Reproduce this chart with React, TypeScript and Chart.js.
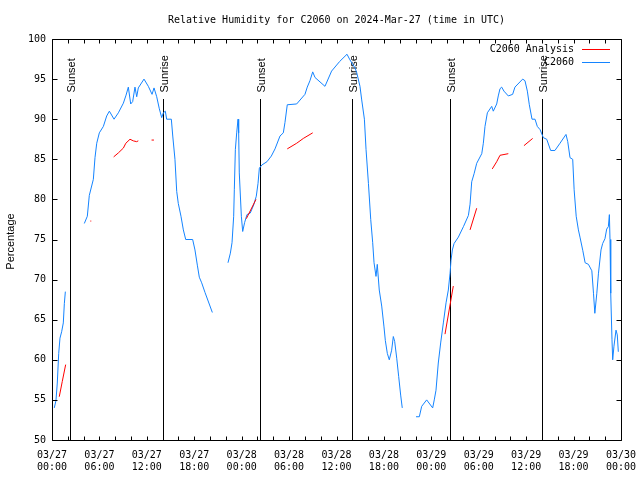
import React, { useEffect, useRef } from "react";
import { Chart, registerables } from "chart.js";

Chart.register(...registerables);

// ---- texts ----
const TITLE = "Relative Humidity for C2060 on 2024-Mar-27 (time in UTC)";
const Y_TITLE = "Percentage";
const DAY_LABELS = ["03/27", "03/28", "03/29", "03/30"];
const SERIES_NAMES = ["C2060 Analysis", "C2060"];
const SERIES_COLORS = ["#ff0000", "#1484ff"];

// ---- axes (hours since 03/27 00:00 UTC) ----
const X_MIN = 0;
const X_MAX = 72;
const X_LABEL_STEP = 6;
const X_TICK_STEP = 2;
const Y_MIN = 50;
const Y_MAX = 100;
const Y_STEP = 5;

// ---- sun events ----
const sunHours = [2.32, 14.08, 26.36, 38.0, 50.4, 62.04];
const sunLabels = ["Sunset", "Sunrise", "Sunset", "Sunrise", "Sunset", "Sunrise"];
const SUN_LINE_TOP = 92.5;

// ---- C2060 Analysis (red); null value = gap ----
const analysisHours = [
  0.92, 1.3, 1.73, 2.5,
  4.85, 4.97, 5.5,
  7.8, 8.4, 9.03, 9.34, 9.87, 10.29, 10.7, 10.92, 11.5,
  12.6, 12.9, 20,
  24.59, 25.81, 27,
  29.77, 30.96, 31.8, 32.99, 40,
  49.73, 50.78, 51.5,
  52.9, 53.74, 54.5,
  55.71, 56.27, 56.69, 57.74, 58.5,
  59.72, 60.82,
];
const analysisValues = [
  55.4, 57.3, 59.4, null,
  77.3, 77.3, null,
  85.3, 85.8, 86.4, 87.0, 87.5, 87.3, 87.2, 87.3, null,
  87.4, 87.4, null,
  77.6, 80.0, null,
  86.3, 87.0, 87.6, 88.3, null,
  63.2, 69.2, null,
  76.2, 78.9, null,
  83.8, 84.7, 85.5, 85.7, null,
  86.7, 87.6,
];

// ---- C2060 (blue); null value = gap ----
const c2060Hours = [
  0.29, 0.5, 0.67, 0.85, 1.01, 1.22, 1.43, 1.56, 1.69, 3,
  4.09, 4.47, 4.72, 5.23, 5.44, 5.66, 5.99, 6.5, 6.92, 7.26, 7.85, 8.4, 9.03, 9.37,
  9.66, 9.96, 10.21, 10.5, 10.72, 10.92, 11.64, 12.19, 12.66, 12.91, 13.25, 13.58,
  13.88, 14.09, 14.34, 14.51, 15.1, 15.28, 15.56, 15.78, 15.98, 16.32, 16.62, 16.92,
  17.8, 18.09, 18.39, 18.64, 18.94, 19.36, 20.29, 21,
  22.27, 22.57, 22.78, 22.99, 23.07, 23.2, 23.37, 23.54, 23.62, 23.7, 23.96, 24.13,
  24.37, 24.67, 25.09, 25.52, 25.85, 26.07, 26.24, 26.57, 27.2, 27.75, 28.22, 28.85,
  29.27, 29.48, 29.77, 30.96, 32.01, 32.3, 32.64, 32.99, 33.28, 34.54, 35.38, 36.4,
  37.33, 37.7, 38.34, 38.56, 38.97, 39.19, 39.53, 39.74, 40.04, 40.33, 40.58, 40.75,
  41.0, 41.16, 41.41, 41.72, 42.01, 42.18, 42.43, 42.68, 42.98, 43.19, 43.36, 43.62,
  43.87, 44.12, 44.32, 45,
  46.06, 46.48, 46.78, 47.41, 48.17, 48.37, 48.59, 48.88, 49.18, 49.52, 49.86, 50.15,
  50.37, 50.49, 50.66, 50.88, 51.42, 52.06, 52.69, 52.9, 53.11, 53.41, 53.74, 54.38,
  54.58, 54.79, 55.09, 55.64, 55.84, 56.27, 56.47, 56.69, 56.9, 57.19, 57.74, 58.29,
  58.58, 59.56, 59.85, 60.15, 60.4, 60.74, 61.12, 61.41, 61.76, 62.17, 62.6, 63.1,
  63.64, 64.28, 65.04, 65.26, 65.55, 65.89, 66.07, 66.33, 66.61, 66.83, 67.17, 67.46,
  67.88, 68.31, 68.52, 68.69, 68.94, 69.15, 69.47, 69.68, 69.97, 70.19, 70.4, 70.53,
  70.61, 70.7, 70.86, 70.95, 71.11, 71.37, 71.53, 71.66,
];
const c2060Values = [
  54.0, 54.9, 57.1, 60.8, 62.7, 63.5, 64.6, 67.0, 68.5, null,
  77.0, 77.9, 80.5, 82.5, 85.2, 87.0, 88.3, 89.1, 90.4, 91.0, 90.0, 90.8, 92.0, 93.0,
  94.0, 91.9, 92.2, 94.0, 92.8, 93.9, 95.0, 94.1, 93.1, 93.9, 92.8, 91.3,
  90.2, 90.8, 91.0, 90.0, 90.0, 87.9, 85.0, 81.0, 79.5, 77.9, 76.2, 75.0,
  75.0, 73.7, 71.8, 70.3, 69.6, 68.4, 65.9, null,
  72.1, 73.3, 74.6, 77.9, 81.2, 86.2, 88.3, 90.0, 88.3, 83.3, 77.9, 76.0,
  77.1, 78.1, 78.3, 79.3, 80.4, 82.0, 83.9, 84.3, 84.7, 85.4, 86.3, 87.9,
  88.3, 89.6, 91.8, 91.9, 93.1, 94.0, 94.8, 95.9, 95.2, 94.1, 96.0, 97.2,
  98.1, 97.4, 96.4, 95.8, 94.1, 92.4, 90.0, 86.2, 82.0, 77.5, 74.6, 72.1,
  70.4, 71.9, 68.7, 66.7, 64.1, 62.4, 60.8, 60.0, 61.2, 62.9, 62.3, 60.2,
  57.9, 55.6, 54.0, null,
  52.9, 52.9, 54.2, 55.0, 54.0, 55.0, 56.2, 59.6, 62.1, 64.6, 67.1, 68.7,
  70.8, 72.4, 73.7, 74.5, 75.3, 76.6, 78.0, 79.4, 82.2, 83.2, 84.5, 85.7,
  87.0, 89.1, 90.8, 91.6, 91.0, 91.9, 92.9, 93.8, 94.0, 93.5, 92.9, 93.1,
  94.0, 95.0, 94.8, 93.5, 91.8, 90.0, 90.0, 89.1, 88.7, 87.7, 87.5, 86.1,
  86.1, 87.0, 88.1, 87.2, 85.2, 85.0, 81.2, 77.9, 76.2, 75.2, 73.6, 72.1,
  71.9, 71.1, 68.3, 65.8, 68.3, 70.8, 73.7, 74.5, 75.1, 76.3, 76.6, 78.1,
  75.0, 68.3, 62.5, 60.0, 61.7, 63.7, 63.1, 61.0,
];

const MONO = "'DejaVu Sans Mono', 'Liberation Mono', monospace";
const SANS = "'Liberation Sans', 'DejaVu Sans', sans-serif";

function toPoints(hours: number[], values: (number | null)[]) {
  return hours.map((h, i) => ({ x: h, y: values[i] }));
}

function xLabel(v: number): string[] | string {
  if (v % X_LABEL_STEP !== 0) return "";
  const day = Math.floor(v / 24);
  const hh = v % 24;
  return [DAY_LABELS[day], (hh < 10 ? "0" : "") + hh + ":00"];
}

const decorPlugin = {
  id: "gnuplotDecor",
  beforeDraw(chart: any) {
    const ctx = chart.ctx;
    ctx.save();
    ctx.fillStyle = "#ffffff";
    ctx.fillRect(0, 0, chart.width, chart.height);
    ctx.restore();
  },
  beforeDatasetsDraw(chart: any) {
    const { ctx, chartArea, scales } = chart;
    const xs = scales.x;
    const ys = scales.y;
    ctx.save();
    ctx.strokeStyle = "#000000";
    ctx.lineWidth = 1;
    ctx.fillStyle = "#000000";
    ctx.font = `11px ${SANS}`;
    const topY = Math.round(ys.getPixelForValue(SUN_LINE_TOP));
    sunHours.forEach((h, i) => {
      const px = Math.round(xs.getPixelForValue(h)) + 0.5;
      ctx.beginPath();
      ctx.moveTo(px, topY);
      ctx.lineTo(px, chartArea.bottom);
      ctx.stroke();
      ctx.save();
      ctx.translate(px + 1.5, topY - 6.5);
      ctx.rotate(-Math.PI / 2);
      ctx.textAlign = "left";
      ctx.textBaseline = "middle";
      ctx.fillText(sunLabels[i], 0, 0);
      ctx.restore();
    });
    ctx.restore();
  },
  afterDraw(chart: any) {
    const { ctx, chartArea, scales } = chart;
    const xs = scales.x;
    const ys = scales.y;
    const L = chartArea.left + 0.5;
    const R = chartArea.right + 0.5;
    const T = chartArea.top + 0.5;
    const B = chartArea.bottom + 0.5;
    ctx.save();
    ctx.strokeStyle = "#000000";
    ctx.lineWidth = 1;
    ctx.beginPath();
    ctx.rect(L, T, R - L, B - T);
    // x tick marks (inward, top and bottom)
    for (let v = X_MIN; v <= X_MAX; v += X_TICK_STEP) {
      const px = Math.round(xs.getPixelForValue(v)) + 0.5;
      ctx.moveTo(px, B);
      ctx.lineTo(px, B - 4);
      ctx.moveTo(px, T);
      ctx.lineTo(px, T + 4);
    }
    // y tick marks (inward, left and right)
    for (let v = Y_MIN; v <= Y_MAX; v += Y_STEP) {
      const py = Math.round(ys.getPixelForValue(v)) + 0.5;
      ctx.moveTo(L, py);
      ctx.lineTo(L + 5, py);
      ctx.moveTo(R, py);
      ctx.lineTo(R - 5, py);
    }
    ctx.stroke();

    // title
    ctx.fillStyle = "#000000";
    ctx.font = `10px ${MONO}`;
    ctx.textAlign = "center";
    ctx.textBaseline = "middle";
    ctx.fillText(TITLE, (chartArea.left + chartArea.right) / 2, 20);

    // y title
    ctx.save();
    ctx.font = `11px ${SANS}`;
    ctx.translate(11, 241.5);
    ctx.rotate(-Math.PI / 2);
    ctx.textAlign = "center";
    ctx.textBaseline = "middle";
    ctx.fillText(Y_TITLE, 0, 0);
    ctx.restore();

    // legend (inside plot, top right)
    ctx.font = `10px ${MONO}`;
    ctx.textAlign = "right";
    ctx.textBaseline = "middle";
    const textRight = chartArea.right - 47;
    SERIES_NAMES.forEach((name, i) => {
      const ry = chartArea.top + 10.5 + i * 13;
      ctx.fillStyle = "#000000";
      ctx.fillText(name, textRight, ry);
      ctx.strokeStyle = SERIES_COLORS[i];
      ctx.beginPath();
      ctx.moveTo(textRight + 8, ry);
      ctx.lineTo(textRight + 36, ry);
      ctx.stroke();
    });
    ctx.restore();
  },
};

export default function App() {
  const canvasRef = useRef<HTMLCanvasElement | null>(null);

  useEffect(() => {
    const canvas = canvasRef.current;
    if (!canvas) return;
    const tickFont = { family: MONO, size: 10, lineHeight: 1.2 };
    const chart = new Chart(canvas, {
      type: "line",
      data: {
        datasets: [
          {
            label: SERIES_NAMES[0],
            data: toPoints(analysisHours, analysisValues),
            borderColor: SERIES_COLORS[0],
            backgroundColor: SERIES_COLORS[0],
            borderWidth: 1,
            pointRadius: 0,
            tension: 0,
            spanGaps: false,
            fill: false,
          },
          {
            label: SERIES_NAMES[1],
            data: toPoints(c2060Hours, c2060Values),
            borderColor: SERIES_COLORS[1],
            backgroundColor: SERIES_COLORS[1],
            borderWidth: 1,
            pointRadius: 0,
            tension: 0,
            spanGaps: false,
            fill: false,
          },
        ],
      },
      options: {
        responsive: false,
        animation: false,
        devicePixelRatio: 1,
        layout: { padding: { top: 39, right: 19, left: 0, bottom: 0 } },
        plugins: {
          legend: { display: false },
          title: { display: false },
          tooltip: { enabled: false },
        },
        scales: {
          x: {
            type: "linear",
            min: X_MIN,
            max: X_MAX,
            grid: { display: false, drawTicks: false, tickLength: 0 },
            border: { display: false },
            ticks: {
              stepSize: X_LABEL_STEP,
              autoSkip: false,
              maxRotation: 0,
              minRotation: 0,
              padding: 9,
              color: "#000000",
              font: tickFont,
              callback: (v: any) => xLabel(Number(v)),
            },
            afterFit: (s: any) => {
              s.height = 40;
              s.paddingLeft = 0;
              s.paddingRight = 0;
            },
          },
          y: {
            type: "linear",
            min: Y_MIN,
            max: Y_MAX,
            grid: { display: false, drawTicks: false, tickLength: 0 },
            border: { display: false },
            ticks: {
              stepSize: Y_STEP,
              padding: 6,
              color: "#000000",
              font: { family: MONO, size: 10 },
            },
            afterFit: (s: any) => {
              s.width = 52;
              s.paddingTop = 0;
              s.paddingBottom = 0;
            },
          },
        },
      },
      plugins: [decorPlugin],
    } as any);
    return () => chart.destroy();
  }, []);

  return (
    <div style={{ position: "fixed", left: 0, top: 0, width: 640, height: 480, background: "#fff" }}>
      <canvas ref={canvasRef} width={640} height={480} style={{ display: "block", width: 640, height: 480 }} />
    </div>
  );
}
